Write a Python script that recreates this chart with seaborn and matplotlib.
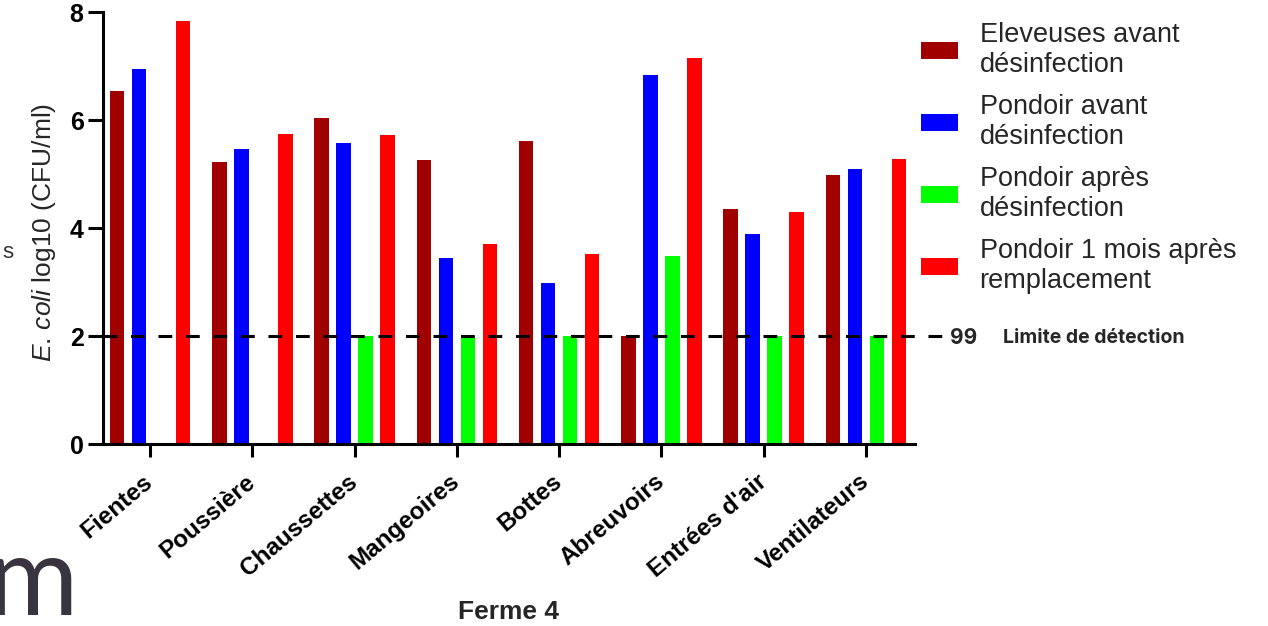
import numpy as np
import pandas as pd
import matplotlib
matplotlib.use("Agg")
import matplotlib.pyplot as plt
import seaborn as sns

sns.set_theme(style="ticks")
plt.rcParams['font.family'] = ['Liberation Sans', 'DejaVu Sans']
plt.rcParams['mathtext.fontset'] = 'custom'
plt.rcParams['mathtext.it'] = 'Liberation Sans:italic'
plt.rcParams['mathtext.rm'] = 'Liberation Sans'

# Données (log10 CFU/ml)
categories = ['Fientes', 'Poussière', 'Chaussettes', 'Mangeoires', 'Bottes',
              'Abreuvoirs', "Entrées d'air", 'Ventilateurs']
series_names = ['Eleveuses avant\ndésinfection', 'Pondoir avant\ndésinfection',
                'Pondoir après\ndésinfection', 'Pondoir 1 mois après\nremplacement']
eleveuses_avant = [6.54, 5.22, 6.03, 5.26, 5.62, 2.00, 4.36, 4.99]
pondoir_avant = [6.94, 5.46, 5.58, 3.44, 2.98, 6.83, 3.89, 5.09]
pondoir_apres = [np.nan, np.nan, 2.00, 2.00, 2.00, 3.48, 2.00, 2.00]
pondoir_1mois = [7.83, 5.75, 5.72, 3.70, 3.52, 7.14, 4.29, 5.28]
couleurs = ['#A00000', '#0000FF', '#00FF00', '#FF0000']
limite_detection = 2
y_ticks = [0, 2, 4, 6, 8]

df = pd.DataFrame({
    'Site': categories * 4,
    'Groupe': np.repeat(series_names, len(categories)),
    'Valeur': eleveuses_avant + pondoir_avant + pondoir_apres + pondoir_1mois,
})

fig = plt.figure(figsize=(12.68, 6.26), dpi=100)
ax = fig.add_axes([103 / 1268, 1 - 444 / 626, 812 / 1268, 432 / 626])

sns.barplot(data=df, x='Site', y='Valeur', hue='Groupe', hue_order=series_names,
            palette=couleurs, width=0.86, gap=0.34, saturation=1, ax=ax,
            errorbar=None, linewidth=0)

ax.set_ylim(0, 8)
ax.set_xlim(-0.46, 7.48)
ax.set_yticks(y_ticks)
ax.set_yticklabels([str(t) for t in y_ticks], fontsize=18, fontweight='bold')
ax.set_xticks(range(len(categories)))
ax.set_xticklabels(categories, fontsize=17.5, fontweight='bold', rotation=40,
                   ha='right', va='center', rotation_mode='anchor')
ax.tick_params(axis='y', length=11, width=2.2, pad=3, colors='black')
ax.tick_params(axis='x', length=9, width=2.2, pad=16, colors='black')
sns.despine(ax=ax)
for s in ['left', 'bottom']:
    ax.spines[s].set_linewidth(2.2)
    ax.spines[s].set_color('black')

ax.set_xlabel('')
ax.set_ylabel(r'$\it{E.\,coli}$ log10 (CFU/ml)', fontsize=19)
ax.yaxis.set_label_coords(-0.056, 0.49)

# Limite de détection
ax.axhline(limite_detection, xmin=0, xmax=1.037, color='black', lw=2.2,
           linestyle=(0, (4.5, 4.5)), clip_on=False, zorder=5)
fig.text(950 / 1268, 1 - 338 / 626, '99', fontsize=15, fontweight='bold',
         family=['Inter', 'DejaVu Sans'], va='center', ha='left')
fig.text(1003 / 1268, 1 - 338 / 626, 'Limite de détection', fontsize=14,
         fontweight='bold', family=['Inter', 'DejaVu Sans'], va='center', ha='left')

# Légende
handles, labels = ax.get_legend_handles_labels()
leg = ax.legend(handles, labels, loc='upper left',
                bbox_to_anchor=(921 / 1268, 1 - 22 / 626),
                bbox_transform=fig.transFigure, frameon=False, fontsize=19.5,
                handlelength=1.36, handleheight=0.63, handletextpad=0.8,
                labelspacing=0.59, borderpad=0, borderaxespad=0)
for t in leg.get_texts():
    t.set_linespacing(1.2)

fig.text(508 / 1268, 1 - 619 / 626, 'Ferme 4', fontsize=19, fontweight='bold',
         ha='center', va='baseline')

# restes du fond de l'image
fig.text(2 / 1268, 1 - 252 / 626, 's', fontsize=16, color='#333333',
         va='center', ha='left')
fig.text(78 / 1268, 1 - 615 / 626, 'm', fontsize=80, color='#3a3440',
         family=['Lato', 'DejaVu Sans'], ha='right', va='baseline')

fig.savefig('out.png', dpi=100)
